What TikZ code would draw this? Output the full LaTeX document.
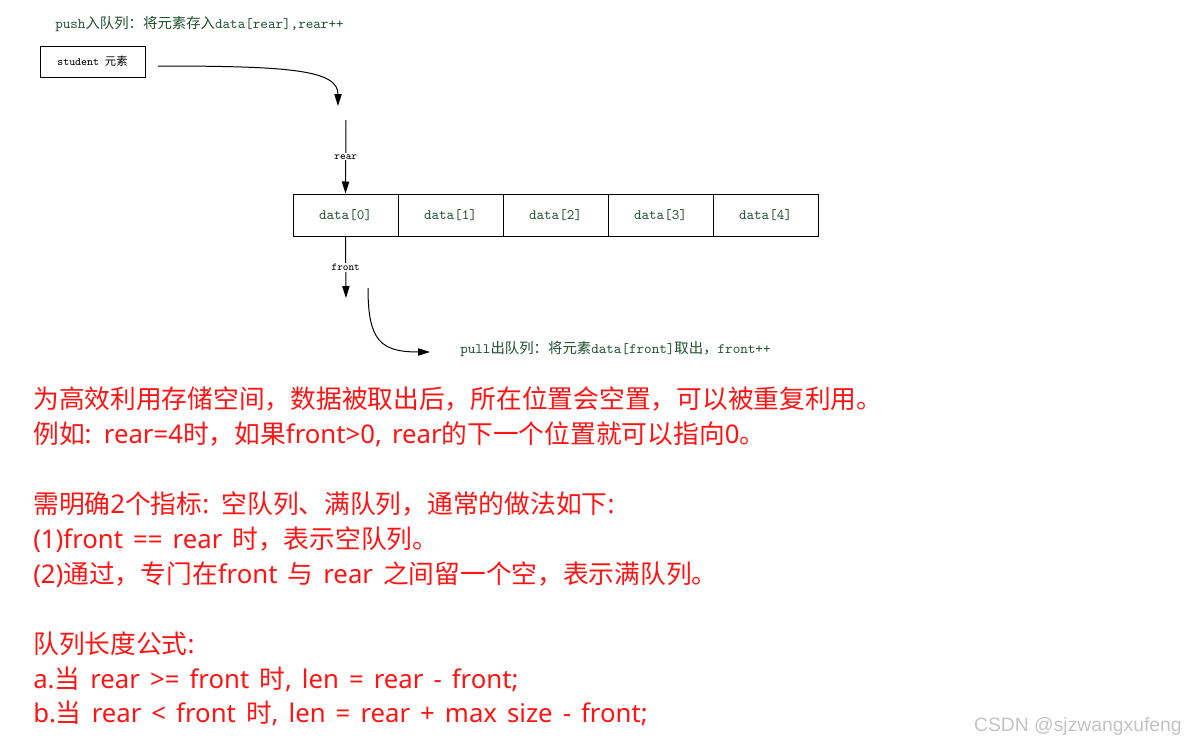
\documentclass[tikz,border=0pt]{standalone}
\usepackage{fontspec}
\newfontfamily\cjk{Noto Sans CJK SC}
\newfontfamily\notefont[WordSpace=1.5]{Noto Sans}
\newfontfamily\markfont{Liberation Sans}
\usetikzlibrary{positioning,arrows.meta}
\definecolor{codeclr}{RGB}{30,80,45}
\definecolor{noteclr}{RGB}{255,20,20}
\definecolor{markclr}{RGB}{195,195,195}
\newcommand\zh[1]{{\cjk #1}}
\tikzset{
  cell/.style={rectangle,draw,line width=0.75pt,minimum width=78.75pt,
               minimum height=31.5pt,inner sep=0pt,text=codeclr,
               font=\ttfamily\fontsize{10.8}{12}\selectfont},
  elem/.style={rectangle,draw,line width=0.75pt,minimum width=78.75pt,
               minimum height=23.25pt,inner sep=0pt,
               font=\ttfamily\fontsize{8.5}{10}\selectfont},
  ptr/.style={fill=white,inner sep=1pt,font=\ttfamily\fontsize{8}{10}\selectfont},
  opcap/.style={anchor=west,inner sep=0pt,text=codeclr,
              font=\ttfamily\fontsize{10.8}{12}\selectfont},
  note/.style={anchor=base west,inner sep=0pt,text=noteclr,
               font=\notefont\fontsize{19.3}{22}\selectfont},
  edge/.style={-{Triangle[length=9pt,width=5.5pt]},line width=0.75pt},
}
\begin{document}
\begin{tikzpicture}[x=0.75pt,y=-0.75pt]
\useasboundingbox (0,0) rectangle (1186,746);
% push side
\node[opcap] (push) at (55,24) {push\zh{入队列：将元素存入}data[rear],rear++};
\node[elem] (stu) at (92.5,61.5) {student \zh{元素}};
\coordinate (ins) at (158,66);
\coordinate (ine) at (338,106);
\draw[edge] (ins) .. controls (290,66) and (338,70) .. (ine);
% the array
\foreach \i in {0,...,4}
  \node[cell] (d\i) at ({345.5+105*\i},215) {\raisebox{-2pt}{data[\i]}};
% pointers
\coordinate (rtop) at (346,120);
\coordinate (fbot) at (346,298);
\draw[edge] (rtop) -- node[ptr] (rear) {rear} (d0.north);
\draw[edge] (d0.south) -- node[ptr] (front) {front} (fbot);
% pull side
\coordinate (outs) at (368,288);
\coordinate (oute) at (430,352);
\draw[edge] (outs) .. controls (368,340) and (380,352) .. (oute);
\node[opcap] (pull) at (460,349) {pull\zh{出队列：将元素}data[front]\zh{取出，}front++};
% notes
\node[note] (l1) at (33,408) {\zh{为高效利用存储空间，数据被取出后，所在位置会空置，可以被重复利用。}};
\node[note] (l2) at (33,443) {\zh{例如}: rear=4\zh{时，如果}front>0, rear\zh{的下一个位置就可以指向}0\zh{。}};
\node[note] (l3) at (33,513) {\zh{需明确}2\zh{个指标}: \zh{空队列、满队列，通常的做法如下}:};
\node[note] (l4) at (33,548) {(1)front == rear \zh{时，表示空队列。}};
\node[note] (l5) at (33,583) {(2)\zh{通过，专门在}front \zh{与} rear \zh{之间留一个空，表示满队列。}};
\node[note] (l6) at (33,653) {\zh{队列长度公式}:};
\node[note] (l7) at (33,688) {a.\zh{当} rear >= front \zh{时}, len = rear - front;};
\node[note] (l8) at (33,722) {b.\zh{当} rear < front \zh{时}, len = rear + max size - front;};
% watermark
\node[anchor=east,inner sep=0pt,text=markclr,font=\markfont\fontsize{14.5}{16}\selectfont]
  (mark) at (1182,726) {CSDN @sjzwangxufeng};
\end{tikzpicture}
\end{document}
